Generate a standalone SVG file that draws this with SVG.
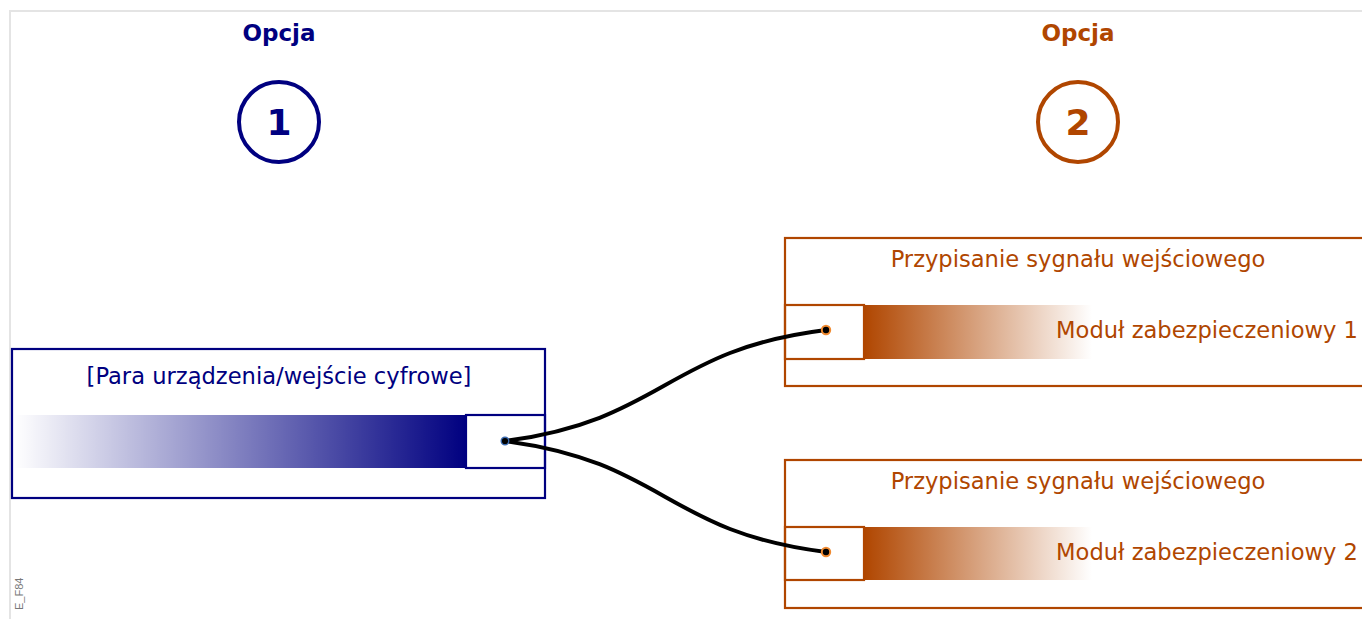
<svg xmlns="http://www.w3.org/2000/svg" width="1362" height="619" viewBox="0 0 1362 619">
<style>
.t{font-family:"DejaVu Sans",Verdana,sans-serif}
.navy{fill:#000080}
.org{fill:#b04600}
.hdr{font-size:23px;font-weight:bold;text-anchor:middle}
.num{font-size:36px;font-weight:bold;text-anchor:middle}
.lbl{font-size:22.6px}
.boxN{fill:none;stroke:#000080;stroke-width:2.2}
.boxO{fill:none;stroke:#b04600;stroke-width:2.2}
.wire{fill:none;stroke:#000;stroke-width:4;stroke-linecap:round}
</style>
<defs>
<linearGradient id="gN" x1="0" y1="0" x2="1" y2="0">
<stop offset="0" stop-color="#000080" stop-opacity="0"/>
<stop offset="1" stop-color="#000080"/>
</linearGradient>
<linearGradient id="gO" x1="0" y1="0" x2="1" y2="0">
<stop offset="0" stop-color="#b04600"/>
<stop offset="1" stop-color="#b04600" stop-opacity="0"/>
</linearGradient>
</defs>
<rect width="1362" height="619" fill="#fff"/>
<path d="M10,619 V11 H1362" fill="none" stroke="#e4e4e4" stroke-width="2"/>

<g id="opt1">
<text class="t navy hdr" x="279" y="41">Opcja</text>
<circle cx="279" cy="122" r="40" fill="none" stroke="#000080" stroke-width="4"/>
<text class="t navy num" x="279" y="135">1</text>
</g>
<g id="opt2">
<text class="t org hdr" x="1078" y="41">Opcja</text>
<circle cx="1078" cy="122" r="40" fill="none" stroke="#b04600" stroke-width="4"/>
<text class="t org num" x="1078" y="135">2</text>
</g>

<g id="source">
<rect x="14" y="415" width="452" height="53" fill="url(#gN)"/>
<rect class="boxN" x="12" y="349" width="533" height="149"/>
<rect class="boxN" x="466" y="415" width="79" height="53"/>
<text class="t navy lbl" x="279" y="384" text-anchor="middle">[Para urządzenia/wejście cyfrowe]</text>
</g>

<g id="target1">
<rect x="864" y="305" width="228" height="54" fill="url(#gO)"/>
<rect class="boxO" x="785" y="238" width="590" height="148"/>
<rect class="boxO" x="785" y="305" width="79" height="54"/>
<text class="t org lbl" x="1078" y="267" text-anchor="middle">Przypisanie sygnału wejściowego</text>
<text class="t org lbl" x="1358" y="338" text-anchor="end">Moduł zabezpieczeniowy 1</text>
</g>

<g id="target2">
<rect x="864" y="527" width="228" height="53" fill="url(#gO)"/>
<rect class="boxO" x="785" y="460" width="590" height="148"/>
<rect class="boxO" x="785" y="527" width="79" height="53"/>
<text class="t org lbl" x="1078" y="489" text-anchor="middle">Przypisanie sygnału wejściowego</text>
<text class="t org lbl" x="1358" y="560" text-anchor="end">Moduł zabezpieczeniowy 2</text>
</g>

<g id="connectors">
<path class="wire" d="M505,441 C665,420 665,350 826,330"/>
<path class="wire" d="M505,441 C665,462 665,532 826,552"/>
<circle cx="505" cy="441" r="3.8" fill="#000" stroke="#3a6ab0" stroke-width="1.4"/>
<circle cx="826" cy="330" r="4.2" fill="#000" stroke="#f08a30" stroke-width="2"/>
<circle cx="826" cy="552" r="4.2" fill="#000" stroke="#f08a30" stroke-width="2"/>
</g>

<text x="23" y="610" transform="rotate(-90 23 610)" font-family="Liberation Sans, Arial, sans-serif" font-size="11" fill="#777">E_F84</text>
</svg>
